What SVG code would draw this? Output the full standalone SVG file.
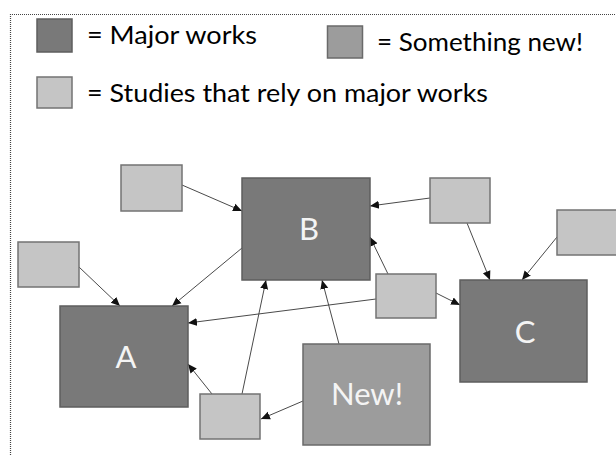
<svg xmlns="http://www.w3.org/2000/svg" width="616" height="455" viewBox="0 0 616 455">
  <defs>
    <marker id="arr" markerUnits="userSpaceOnUse" markerWidth="10" markerHeight="10" viewBox="0 0 10 10" refX="9" refY="5" orient="auto">
      <path d="M0,1 L9,5 L0,9 Z" fill="#111"/>
    </marker>
    <style>
      .major { fill: #797979; stroke: #5e5e5e; stroke-width: 1.5; }
      .new { fill: #9c9c9c; stroke: #6a6a6a; stroke-width: 1.5; }
      .study { fill: #c5c5c5; stroke: #737373; stroke-width: 1.5; }
      .legend { font-family: Lato, "Open Sans", "Liberation Sans", sans-serif; font-size: 25px; fill: #000; }
      .label { font-family: Lato, "Open Sans", "Liberation Sans", sans-serif; font-size: 31px; fill: #f4f4f4; text-anchor: middle; }
      .conn line { stroke: #4a4a4a; stroke-width: 1; marker-end: url(#arr); }
      .frame { stroke: #444; stroke-width: 1.2; stroke-dasharray: 1 1; fill: none; }
    </style>
  </defs>
  <rect width="616" height="455" fill="#fff"/>
  <g id="frame">
    <line class="frame" x1="10" y1="14.5" x2="616" y2="14.5"/>
    <line class="frame" x1="10.5" y1="14" x2="10.5" y2="455"/>
  </g>
  <g id="legend">
    <rect class="major" x="37" y="19" width="35" height="33"/>
    <text class="legend" x="87" y="44" textLength="170" lengthAdjust="spacingAndGlyphs">= Major works</text>
    <rect class="new" x="327.5" y="26" width="35" height="32"/>
    <text class="legend" x="377" y="51" textLength="206" lengthAdjust="spacingAndGlyphs">= Something new!</text>
    <rect class="study" x="37" y="77" width="35" height="31"/>
    <text class="legend" x="87" y="102" textLength="401" lengthAdjust="spacingAndGlyphs">= Studies that rely on major works</text>
  </g>
  <g id="connectors" class="conn">
    <line x1="182" y1="185" x2="242" y2="211"/>
    <line x1="79" y1="267" x2="120" y2="306"/>
    <line x1="242" y1="248" x2="172" y2="306"/>
    <line x1="430" y1="198" x2="370" y2="206"/>
    <line x1="467" y1="223" x2="490" y2="280"/>
    <line x1="557" y1="237" x2="522" y2="280"/>
    <line x1="388" y1="274" x2="370" y2="237"/>
    <line x1="376" y1="299" x2="188" y2="323"/>
    <line x1="436" y1="293" x2="460" y2="305"/>
    <line x1="212" y1="394" x2="188" y2="364"/>
    <line x1="242" y1="394" x2="266" y2="280"/>
    <line x1="339" y1="344" x2="322" y2="280"/>
    <line x1="303" y1="401" x2="261" y2="419"/>
  </g>
  <g id="node-B">
    <rect class="major" x="242" y="178" width="128" height="102"/>
    <text class="label" x="309" y="240">B</text>
  </g>
  <g id="node-A">
    <rect class="major" x="60" y="306" width="128" height="101"/>
    <text class="label" x="126" y="368">A</text>
  </g>
  <g id="node-C">
    <rect class="major" x="460" y="280" width="127" height="102"/>
    <text class="label" x="525" y="343">C</text>
  </g>
  <g id="node-New">
    <rect class="new" x="303" y="344" width="127" height="101"/>
    <text class="label" x="367" y="405">New!</text>
  </g>
  <g id="study-1"><rect class="study" x="121" y="165" width="61" height="46"/></g>
  <g id="study-2"><rect class="study" x="18" y="242" width="61" height="45"/></g>
  <g id="study-3"><rect class="study" x="430" y="178" width="60" height="45"/></g>
  <g id="study-4"><rect class="study" x="557" y="210" width="62" height="45"/></g>
  <g id="study-5"><rect class="study" x="376" y="274" width="60" height="44"/></g>
  <g id="study-6"><rect class="study" x="200" y="394" width="60" height="45"/></g>
</svg>
